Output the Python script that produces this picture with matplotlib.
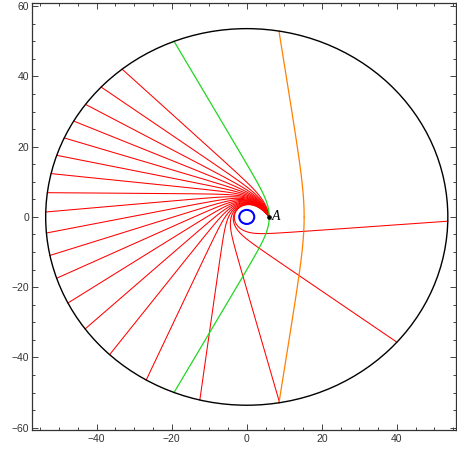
import numpy as np
import matplotlib
matplotlib.use("Agg")
import matplotlib.pyplot as plt
from matplotlib.patches import Circle
from matplotlib.ticker import MultipleLocator

# Schwarzschild light rays, geometric units (M = 1)
M = 1.0
R_OUTER = 53.6          # outer boundary circle
R_HORIZON = 2.0         # event horizon
A_POS = (6.0, 0.0)      # emission point A
# polar angles (deg) where the red rays leave through the outer circle
RAY_END_DEG = [128.3, 136.4, 143.3, 149.4, 155.2, 160.9, 166.7, 172.6, 178.5, 184.9,
               191.8, 199.0, 207.2, 216.5, 227.0, 240.0, 256.5, 279.4, 318.3, 358.7]
ORANGE_PERIAPSIS = 15.3  # closest approach of the orange ray

DPHI = 0.003


def integrate(u0, w0, n_max=4000):
    """RK4 on u'' = 3 M u^2 - u (u = 1/r, derivative w.r.t. phi), vectorised."""
    u = np.atleast_1d(np.asarray(u0, float)).copy()
    w = np.atleast_1d(np.asarray(w0, float)).copy() * np.ones_like(u)
    done = np.zeros(u.shape, bool)
    out = [u.copy()]
    f = lambda uu: 3 * M * uu * uu - uu
    h = DPHI
    for _ in range(n_max):
        k1u, k1w = w, f(u)
        k2u, k2w = w + 0.5 * h * k1w, f(u + 0.5 * h * k1u)
        k3u, k3w = w + 0.5 * h * k2w, f(u + 0.5 * h * k2u)
        k4u, k4w = w + h * k3w, f(u + h * k3u)
        un = u + h / 6 * (k1u + 2 * k2u + 2 * k3u + k4u)
        wn = w + h / 6 * (k1w + 2 * k2w + 2 * k3w + k4w)
        u = np.where(done, u, un)
        w = np.where(done, w, wn)
        out.append(u.copy())
        done |= (u < 1 / R_OUTER) | (u > 1 / R_HORIZON)
        if done.all():
            break
    return np.array(out)  # shape (steps, rays)


def exit_angle(us):
    """Polar angle where each ray crosses the outer circle (inf if captured)."""
    ang = np.full(us.shape[1], np.inf)
    for j in range(us.shape[1]):
        col = us[:, j]
        out_idx = np.nonzero(col < 1 / R_OUTER)[0]
        cap_idx = np.nonzero(col > 1 / R_HORIZON)[0]
        if out_idx.size and (not cap_idx.size or out_idx[0] < cap_idx[0]):
            i = out_idx[0]
            t = (col[i - 1] - 1 / R_OUTER) / (col[i - 1] - col[i])
            ang[j] = (i - 1 + t) * DPHI
    return ang


def clip_path(col, phi0=0.0, sign=1.0):
    """Convert a u(phi) column into x, y, stopping on the outer circle."""
    idx = np.nonzero(col < 1 / R_OUTER)[0]
    i = idx[0] if idx.size else len(col)
    phi = phi0 + sign * DPHI * np.arange(i)
    r = 1 / col[:i]
    if idx.size:
        t = (col[i - 1] - 1 / R_OUTER) / (col[i - 1] - col[i])
        phi = np.append(phi, phi0 + sign * DPHI * (i - 1 + t))
        r = np.append(r, R_OUTER)
    return r * np.cos(phi), r * np.sin(phi)


u_a = 1 / A_POS[0]
b_tangent = A_POS[0] / np.sqrt(1 - 2 * M * u_a)
b_crit = 3 * np.sqrt(3) * M
w_of_b = lambda b: np.sqrt(np.maximum(1 / b**2 - u_a**2 * (1 - 2 * M * u_a), 0))

# find impact parameters of the inward-launched rays hitting the given exit angles
target = np.radians(RAY_END_DEG)
lo = np.full(len(target), b_crit + 1e-12)
hi = np.full(len(target), b_tangent)
for _ in range(34):
    mid = 0.5 * (lo + hi)
    sw = exit_angle(integrate(np.full(len(mid), u_a), w_of_b(mid)))
    too_far = sw > target
    lo = np.where(too_far, mid, lo)
    hi = np.where(too_far, hi, mid)
b_rays = 0.5 * (lo + hi)
red_u = integrate(np.full(len(b_rays), u_a), w_of_b(b_rays))

green_u = integrate([u_a], [0.0])[:, 0]
orange_u = integrate([1 / ORANGE_PERIAPSIS], [0.0])[:, 0]

fig = plt.figure(figsize=(4.57, 4.53), dpi=100)
ax = fig.add_axes([0.070, 0.0508, 0.928, 0.9426])

for j in range(len(b_rays)):
    x, y = clip_path(red_u[:, j])
    ax.plot(x, y, color="#ff0000", lw=0.75, zorder=2)

for sgn in (1, -1):
    x, y = clip_path(green_u, sign=sgn)
    ax.plot(x, y, color="#22d622", lw=0.9, zorder=3)
    x, y = clip_path(orange_u, sign=sgn)
    ax.plot(x, y, color="#ff8000", lw=0.9, zorder=3)

ax.add_patch(Circle((0, 0), R_OUTER, fill=False, ec="black", lw=1.0, zorder=4))
ax.add_patch(Circle((0, 0), R_HORIZON, fill=False, ec="#0000ff", lw=1.5, zorder=4))
ax.plot(*A_POS, "o", color="black", ms=2.3, zorder=5)
ax.text(A_POS[0] + 0.6, A_POS[1], "A", fontsize=10, style="italic",
        family=["Liberation Serif", "DejaVu Serif"], va="center", ha="left", zorder=5)

ax.set_xlim(-57.25, 55.8)
ax.set_ylim(-60.65, 60.9)
ax.xaxis.set_major_locator(MultipleLocator(20))
ax.xaxis.set_minor_locator(MultipleLocator(5))
ax.yaxis.set_major_locator(MultipleLocator(20))
ax.yaxis.set_minor_locator(MultipleLocator(5))
ax.tick_params(which="both", direction="in", top=True, right=True,
               labelsize=7.5, width=0.7, color="#444444")
ax.tick_params(axis="x", which="major", length=4.0, pad=3)
ax.tick_params(axis="x", which="minor", length=2.0)
ax.tick_params(axis="y", which="major", length=4.5, pad=2)
ax.tick_params(axis="y", which="minor", length=2.3)
for lab in ax.get_xticklabels() + ax.get_yticklabels():
    lab.set_family(["Liberation Sans", "DejaVu Sans"])
    lab.set_color("#333333")
for sp in ax.spines.values():
    sp.set_linewidth(0.9)
    sp.set_color("#333333")

fig.savefig("out.png", dpi=100)
